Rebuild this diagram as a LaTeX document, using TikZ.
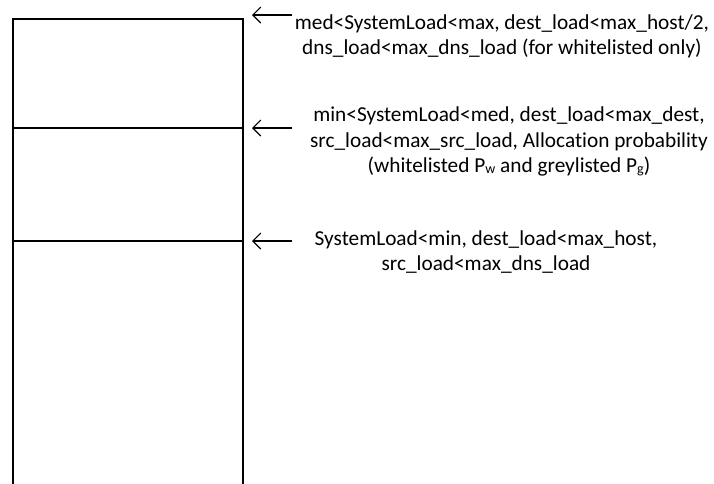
\documentclass[tikz,border=0pt]{standalone}
\usepackage{fontspec}
\setmainfont[Ligatures=NoCommon]{Carlito}
\usetikzlibrary{arrows.meta}
\newcommand{\lowsub}[1]{\raisebox{-1.5pt}{\fontsize{14}{14}\selectfont #1}}
\begin{document}
\begin{tikzpicture}[x=1pt,y=-1pt,
  wall/.style={line width=1.5pt},
  pointer/.style={line width=1.1pt,-{Straight Barb[length=8pt,width=16pt]}},
  cond/.style={anchor=base,inner sep=0pt,font=\fontsize{21.3}{26}\selectfont}]
\useasboundingbox (0,0) rectangle (714,483);

% stacked load bands, open at the bottom
\coordinate (bl) at (13,486);
\coordinate (tl) at (13,19);
\coordinate (tr) at (243,19);
\coordinate (br) at (243,486);
\coordinate (ml) at (13,128);
\coordinate (mr) at (243,128);
\coordinate (ll) at (13,241);
\coordinate (lr) at (243,241);
\draw[wall] (bl) -- (tl) -- (tr) -- (br);
\draw[wall] (ml) -- (mr);
\draw[wall] (ll) -- (lr);

% threshold pointers
\coordinate (p1) at (292,15);  \coordinate (q1) at (252,15);
\coordinate (p2) at (292,128); \coordinate (q2) at (252,128);
\coordinate (p3) at (292,241); \coordinate (q3) at (252,241);
\draw[pointer] (p1) -- (q1);
\draw[pointer] (p2) -- (q2);
\draw[pointer] (p3) -- (q3);

% conditions for each band
\node[cond] (c1a) at (502,29) {med<SystemLoad<max, dest\_load<max\_host/2,};
\node[cond] (c1b) at (502,54) {dns\_load<max\_dns\_load (for whitelisted only)};

\node[cond] (c2a) at (509,121) {min<SystemLoad<med, dest\_load<max\_dest,};
\node[cond] (c2b) at (509,147) {src\_load<max\_src\_load, Allocation probability};
\node[cond] (c2c) at (509,172) {(whitelisted P\lowsub{w} and greylisted P\lowsub{g})};

\node[cond] (c3a) at (486,245) {SystemLoad<min, dest\_load<max\_host,};
\node[cond] (c3b) at (486,270) {src\_load<max\_dns\_load};
\end{tikzpicture}
\end{document}
